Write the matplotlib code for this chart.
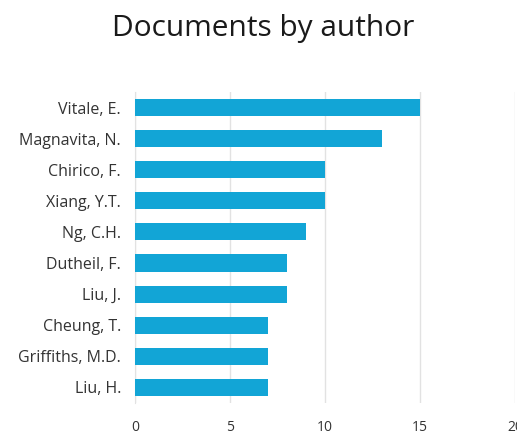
import matplotlib
matplotlib.use("Agg")
import matplotlib.pyplot as plt

# DATI
authors = ["Vitale, E.", "Magnavita, N.", "Chirico, F.", "Xiang, Y.T.", "Ng, C.H.",
           "Dutheil, F.", "Liu, J.", "Cheung, T.", "Griffiths, M.D.", "Liu, H."]
docs = [15, 13, 10, 10, 9, 8, 8, 7, 7, 7]
xticks = [0, 5, 10, 15, 20]

# PARAMETRI
col = "#12a5d6"
grid_col = "#e2e2e2"
txt_col = "#333333"
plt.rcParams["font.family"] = ["Open Sans", "DejaVu Sans"]

fig = plt.figure(figsize=(5.17, 4.36), dpi=100)
ax = fig.add_axes([0.261, 0.076, 0.735, 0.713])

ypos = list(range(len(authors)))
ax.barh(ypos, docs, height=0.55, color=col, zorder=3)
ax.set_ylim(len(authors) - 0.5, -0.5)
ax.set_xlim(0, 20)
ax.set_yticks(ypos)
ax.set_yticklabels(authors, fontsize=11.5, color=txt_col)
ax.set_xticks(xticks)
ax.set_xticklabels([str(t) for t in xticks], fontsize=10, color=txt_col)
ax.tick_params(axis="y", length=0, pad=10)
ax.tick_params(axis="x", length=0, pad=12)
ax.grid(axis="x", color=grid_col, linewidth=1, zorder=0)
for s in ["top", "right", "bottom"]:
    ax.spines[s].set_visible(False)
ax.spines["left"].set_color(grid_col)
ax.spines["left"].set_zorder(0)

fig.text(0.51, 0.935, "Documents by author", ha="center", va="center",
         fontsize=21.5, color="#1a1a1a")

fig.savefig("out.png", dpi=100)
